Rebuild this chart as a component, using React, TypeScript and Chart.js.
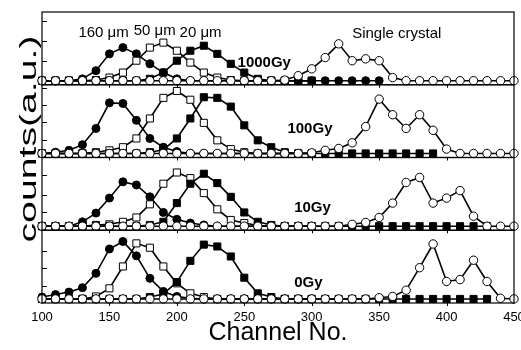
import { useEffect, useRef } from 'react';
import { Chart, registerables } from 'chart.js';
Chart.register(...registerables);

// Channel numbers (every 10th channel carries a marker)
const channels = [100, 110, 120, 130, 140, 150, 160, 170, 180, 190, 200, 210, 220, 230, 240, 250, 260, 270, 280, 290, 300, 310, 320, 330, 340, 350, 360, 370, 380, 390, 400, 410, 420, 430, 440, 450];
const xTickValues = [100, 150, 200, 250, 300, 350, 400, 450];
const seriesNames = ['160 μm', '50 μm', '20 μm', 'Single crystal'];
const doseLabels = ['1000Gy', '100Gy', '10Gy', '0Gy'];
const yTitle = 'counts(a.u.)';
const xTitle = 'Channel No.';

// 1000 Gy
const p1000_160 = [0, 0, 0, 0.03, 0.16, 0.43, 0.53, 0.43, 0.27, 0.13, 0.03, 0, 0, 0, 0, 0, 0, 0, 0, 0, 0, 0, 0, 0, 0, 0, null, null, null, null, null, null, null, null, null, null];
const p1000_50 = [0, 0, 0, 0, 0.01, 0.05, 0.13, 0.32, 0.53, 0.61, 0.48, 0.29, 0.13, 0.05, 0.01, 0, 0, 0, 0, 0, 0, null, null, null, null, null, null, null, null, null, null, null, null, null, null, null];
const p1000_20 = [0, 0, 0, 0, 0, 0, 0, 0, 0.03, 0.13, 0.32, 0.48, 0.56, 0.43, 0.27, 0.13, 0.03, 0, 0, 0, 0, null, null, null, null, null, null, null, null, null, null, null, null, null, null, null];
const p1000_sc = [0, 0, 0, 0, 0, 0, 0, 0, 0, 0, 0, 0, 0, 0, 0, 0, 0, 0, 0.01, 0.08, 0.19, 0.37, 0.59, 0.32, 0.35, 0.32, 0.05, 0, 0, 0, 0, 0, 0, 0, 0, 0];
// 100 Gy
const p100_160 = [0, 0.02, 0.05, 0.14, 0.40, 0.81, 0.80, 0.53, 0.24, 0.10, 0.03, 0, 0, 0, 0, 0, 0, 0, 0, 0, 0, null, null, null, null, null, null, null, null, null, null, null, null, null, null, null];
const p100_50 = [0, 0, 0, 0, 0.02, 0.05, 0.10, 0.24, 0.56, 0.89, 1.0, 0.86, 0.49, 0.21, 0.07, 0.02, 0, 0, 0, 0, 0, null, null, null, null, null, null, null, null, null, null, null, null, null, null, null];
const p100_20 = [0, 0, 0, 0, 0, 0, 0, 0, 0.02, 0.06, 0.24, 0.56, 0.90, 0.89, 0.75, 0.45, 0.21, 0.10, 0.02, 0, 0, 0, 0, 0, 0, 0, 0, 0, 0, 0, null, null, null, null, null, null];
const p100_sc = [0, 0, 0, 0, 0, 0, 0, 0, 0, 0, 0, 0, 0, 0, 0, 0, 0, 0, 0, 0, 0.01, 0.05, 0.08, 0.17, 0.43, 0.87, 0.62, 0.40, 0.62, 0.37, 0.07, 0, 0, 0, 0, 0];
// 10 Gy
const p10_160 = [0, 0, 0, 0.07, 0.21, 0.45, 0.71, 0.66, 0.47, 0.22, 0.11, 0.05, 0.02, 0, 0, 0, 0, 0, 0, 0, 0, null, null, null, null, null, null, null, null, null, null, null, null, null, null, null];
const p10_50 = [0, 0, 0, 0, 0.02, 0.03, 0.07, 0.14, 0.35, 0.68, 0.86, 0.77, 0.53, 0.27, 0.10, 0.05, 0.01, 0, 0, 0, 0, null, null, null, null, null, null, null, null, null, null, null, null, null, null, null];
const p10_20 = [0, 0, 0, 0, 0, 0, 0, 0, 0.02, 0.07, 0.37, 0.68, 0.84, 0.69, 0.47, 0.22, 0.07, 0.02, 0, 0, 0, 0, 0, 0, 0, 0, 0, 0, 0, 0, 0, 0, 0, 0, null, null];
const p10_sc = [0, 0, 0, 0, 0, 0, 0, 0, 0, 0, 0, 0, 0, 0, 0, 0, 0, 0, 0, 0, 0, 0, 0, 0.03, 0.06, 0.14, 0.37, 0.70, 0.78, 0.37, 0.45, 0.57, 0.16, 0, 0, 0];
// 0 Gy
const p0_160 = [0.03, 0.07, 0.11, 0.18, 0.41, 0.80, 0.92, 0.69, 0.33, 0.12, 0.04, 0.01, 0, 0, 0, 0, 0, 0, 0, 0, 0, null, null, null, null, null, null, null, null, null, null, null, null, null, null, null];
const p0_50 = [0, 0, 0, 0, 0.04, 0.17, 0.52, 0.89, 0.82, 0.52, 0.25, 0.09, 0.03, 0, 0, 0, 0, 0, 0, 0, 0, null, null, null, null, null, null, null, null, null, null, null, null, null, null, null];
const p0_20 = [0, 0, 0, 0, 0, 0, 0, 0, 0.03, 0.08, 0.27, 0.61, 0.87, 0.84, 0.68, 0.34, 0.09, 0.03, 0, 0, 0, 0, 0, 0, 0, 0, 0, 0, 0, 0, 0, 0, 0, 0, null, null];
const p0_sc = [0, 0, 0, 0, 0, 0, 0, 0, 0, 0, 0, 0, 0, 0, 0, 0, 0, 0, 0, 0, 0, 0, 0, 0, 0, 0.02, 0.04, 0.14, 0.50, 0.88, 0.28, 0.31, 0.62, 0.28, 0.01, 0];

// left-axis minor tick values per panel (top to bottom)
const yTicks1000 = [0.32, 0.64, 0.96];
const yTicks100 = [0.22, 0.5, 0.78, 1.05];
const yTicks10 = [0.23, 0.5, 0.82];
const yTicks0 = [0.2, 0.49, 0.76];

const FONT = "'Liberation Sans', Arial, sans-serif";

export default function App() {
  const ref = useRef<HTMLCanvasElement>(null);
  useEffect(() => {
    if (!ref.current) return;
    const panels = [
      { id: 'yP1000', dose: doseLabels[0], series: [p1000_160, p1000_50, p1000_20, p1000_sc], ticks: yTicks1000, labelAt: [245, 0.29] },
      { id: 'yP100', dose: doseLabels[1], series: [p100_160, p100_50, p100_20, p100_sc], ticks: yTicks100, labelAt: [282, 0.40] },
      { id: 'yP10', dose: doseLabels[2], series: [p10_160, p10_50, p10_20, p10_sc], ticks: yTicks10, labelAt: [287, 0.29] },
      { id: 'yP0', dose: doseLabels[3], series: [p0_160, p0_50, p0_20, p0_sc], ticks: yTicks0, labelAt: [287, 0.26] },
    ];
    const styles = [
      { pointStyle: 'circle', fill: '#000', r: 4, order: 3 },
      { pointStyle: 'rect', fill: '#fff', r: 5, order: 2 },
      { pointStyle: 'rect', fill: '#000', r: 5, order: 1 },
      { pointStyle: 'circle', fill: '#fff', r: 4.2, order: 0 },
    ];
    const datasets: any[] = [];
    panels.forEach((p) => {
      p.series.forEach((arr, si) => {
        const st = styles[si];
        datasets.push({
          label: `${p.dose} ${seriesNames[si]}`,
          data: channels.map((c, i) => ({ x: c, y: arr[i] })),
          yAxisID: p.id,
          borderColor: '#000',
          borderWidth: 1.6,
          pointStyle: st.pointStyle,
          pointRadius: st.r,
          pointBackgroundColor: st.fill,
          pointBorderColor: '#000',
          pointBorderWidth: 1,
          tension: 0,
          spanGaps: false,
          clip: false,
          order: st.order,
        });
      });
    });

    const yScale = () => ({
      type: 'linear',
      min: -0.065,
      max: 1.1,
      position: 'left',
      stack: 'panels',
      stackWeight: 1,
      display: true,
      grid: { display: false, drawTicks: false },
      border: { display: false },
      ticks: { display: false },
      afterFit: (s: any) => { s.width = 0; },
    });

    const decor = {
      id: 'decor',
      afterDatasetsDraw(chart: any) {
        const ctx = chart.ctx;
        const ca = chart.chartArea;
        const xs = chart.scales.x;
        ctx.save();
        ctx.strokeStyle = '#000';
        ctx.fillStyle = '#000';
        panels.forEach((p, pi) => {
          const s = chart.scales[p.id];
          ctx.lineWidth = 1.2;
          ctx.strokeRect(ca.left, s.top, ca.right - ca.left, s.bottom - s.top);
          ctx.lineWidth = 1;
          p.ticks.forEach((v) => {
            const y = Math.round(s.getPixelForValue(v)) + 0.5;
            ctx.beginPath();
            ctx.moveTo(ca.left, y);
            ctx.lineTo(ca.left + 5, y);
            ctx.stroke();
          });
          if (pi > 0) {
            xTickValues.slice(1, -1).forEach((v) => {
              const x = Math.round(xs.getPixelForValue(v)) + 0.5;
              ctx.beginPath();
              ctx.moveTo(x, s.top);
              ctx.lineTo(x, s.top + 3);
              ctx.stroke();
            });
          }
          ctx.font = `bold 15px ${FONT}`;
          ctx.textAlign = 'left';
          ctx.textBaseline = 'middle';
          ctx.fillText(p.dose, xs.getPixelForValue(p.labelAt[0]), s.getPixelForValue(p.labelAt[1]));
        });
        xTickValues.slice(1, -1).forEach((v) => {
          const x = Math.round(xs.getPixelForValue(v)) + 0.5;
          ctx.beginPath();
          ctx.moveTo(x, ca.bottom);
          ctx.lineTo(x, ca.bottom + 3);
          ctx.stroke();
        });
        const top = chart.scales[panels[0].id];
        const seriesLabelAt = [[127, 0.77], [168, 0.80], [202, 0.77], [330, 0.75]];
        ctx.font = `15px ${FONT}`;
        ctx.textAlign = 'left';
        ctx.textBaseline = 'middle';
        seriesNames.forEach((n, i) => {
          ctx.fillText(n, xs.getPixelForValue(seriesLabelAt[i][0]), top.getPixelForValue(seriesLabelAt[i][1]));
        });
        ctx.font = `25px ${FONT}`;
        ctx.textAlign = 'center';
        ctx.textBaseline = 'alphabetic';
        ctx.fillText(xTitle, (ca.left + ca.right) / 2, 340);
        ctx.save();
        ctx.translate(29, 139);
        ctx.rotate(-Math.PI / 2);
        ctx.font = `24px ${FONT}`;
        const w = ctx.measureText(yTitle).width;
        ctx.scale(207 / w, 1);
        ctx.textAlign = 'center';
        ctx.textBaseline = 'middle';
        ctx.fillText(yTitle, 0, 0);
        ctx.restore();
        ctx.restore();
      },
    };

    const chart = new Chart(ref.current, {
      type: 'line',
      data: { datasets },
      options: {
        animation: false,
        responsive: false,
        layout: { padding: { left: 42, top: 12, right: 7, bottom: 0 } },
        plugins: { legend: { display: false }, tooltip: { enabled: false } },
        scales: {
          x: {
            type: 'linear',
            min: 100,
            max: 450,
            afterBuildTicks: (s: any) => { s.ticks = xTickValues.map((v) => ({ value: v })); },
            grid: { display: false, drawTicks: false },
            border: { display: false },
            ticks: { color: '#000', font: { family: FONT, size: 13 }, padding: 7, maxRotation: 0, autoSkip: false },
            afterFit: (s: any) => { s.height = 47; s.paddingLeft = 0; s.paddingRight = 0; },
          },
          yP0: yScale(),
          yP10: yScale(),
          yP100: yScale(),
          yP1000: yScale(),
        } as any,
      },
      plugins: [decor],
    } as any);
    return () => chart.destroy();
  }, []);
  return (
    <div style={{ position: 'absolute', left: 0, top: 0, width: 521, height: 350, background: '#fff' }}>
      <canvas ref={ref} width={521} height={350} style={{ display: 'block' }} />
    </div>
  );
}
